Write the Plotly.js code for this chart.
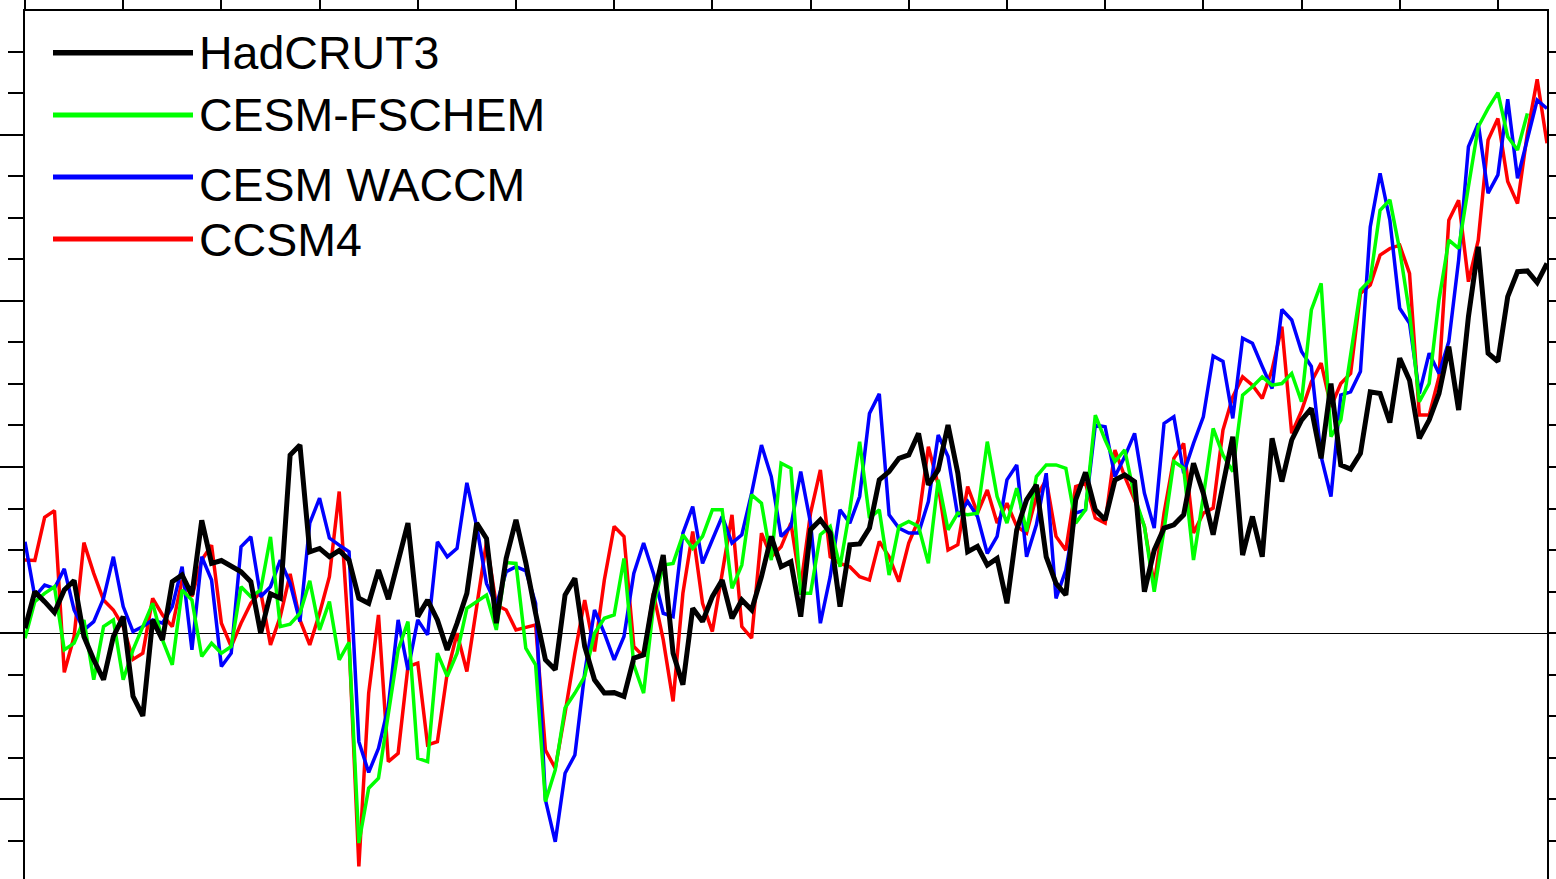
<!DOCTYPE html>
<html>
<head>
<meta charset="utf-8">
<script src="https://cdn.plot.ly/plotly-3.0.1.min.js"></script>
<style>
html,body{margin:0;padding:0;background:#fff;}
#chart{width:1556px;height:879px;}
</style>
</head>
<body>
<div id="chart"></div>
<script>
// ---- data ----
const years = [1850,1851,1852,1853,1854,1855,1856,1857,1858,1859,
1860,1861,1862,1863,1864,1865,1866,1867,1868,1869,
1870,1871,1872,1873,1874,1875,1876,1877,1878,1879,
1880,1881,1882,1883,1884,1885,1886,1887,1888,1889,
1890,1891,1892,1893,1894,1895,1896,1897,1898,1899,
1900,1901,1902,1903,1904,1905,1906,1907,1908,1909,
1910,1911,1912,1913,1914,1915,1916,1917,1918,1919,
1920,1921,1922,1923,1924,1925,1926,1927,1928,1929,
1930,1931,1932,1933,1934,1935,1936,1937,1938,1939,
1940,1941,1942,1943,1944,1945,1946,1947,1948,1949,
1950,1951,1952,1953,1954,1955,1956,1957,1958,1959,
1960,1961,1962,1963,1964,1965,1966,1967,1968,1969,
1970,1971,1972,1973,1974,1975,1976,1977,1978,1979,
1980,1981,1982,1983,1984,1985,1986,1987,1988,1989,
1990,1991,1992,1993,1994,1995,1996,1997,1998,1999,
2000,2001,2002,2003,2004,2005];

const hadcrut3 = [0.012,0.1,0.076,0.05,0.104,0.127,-0.008,-0.064,-0.112,-0.008,
0.04,-0.152,-0.199,0.032,-0.016,0.124,0.14,0.092,0.272,0.168,
0.175,0.16,0.148,0.124,0,0.095,0.084,0.429,0.453,0.196,
0.204,0.184,0.199,0.176,0.084,0.072,0.152,0.082,0.168,0.265,
0.04,0.08,0.032,-0.04,0.024,0.096,0.265,0.228,0.024,0.18,
0.273,0.17,0.048,-0.064,-0.088,0.092,0.132,-0.032,-0.112,-0.144,
-0.143,-0.152,-0.06,-0.052,0.088,0.188,-0.048,-0.124,0.06,0.028,
0.088,0.128,0.036,0.08,0.056,0.136,0.233,0.16,0.172,0.04,
0.249,0.273,0.241,0.064,0.213,0.215,0.253,0.369,0.389,0.421,
0.429,0.481,0.357,0.393,0.501,0.385,0.196,0.209,0.164,0.18,
0.072,0.249,0.321,0.357,0.184,0.12,0.092,0.321,0.387,0.297,
0.273,0.369,0.381,0.365,0.1,0.2,0.253,0.261,0.285,0.409,
0.337,0.237,0.357,0.473,0.188,0.281,0.184,0.469,0.365,0.465,
0.513,0.541,0.421,0.601,0.405,0.395,0.433,0.581,0.577,0.507,
0.662,0.609,0.469,0.513,0.577,0.69,0.537,0.762,0.93,0.674,
0.654,0.81,0.87,0.872,0.844,0.89];

const cesmFschem = [-0.012,0.076,0.096,0.112,-0.04,-0.024,0.032,-0.112,0.016,0.032,
-0.112,-0.04,0.016,0.072,-0.016,-0.076,0.104,0.08,-0.056,-0.024,
-0.048,-0.032,0.112,0.088,0.104,0.232,0.016,0.022,0.048,0.126,
0.008,0.076,-0.064,-0.022,-0.505,-0.373,-0.349,-0.192,-0.04,0.028,
-0.301,-0.309,-0.048,-0.104,-0.048,0.06,0.076,0.092,0.008,0.17,
0.168,-0.036,-0.076,-0.405,-0.329,-0.18,-0.144,-0.104,0,0.036,
0.044,0.18,-0.076,-0.144,0.064,0.164,0.168,0.237,0.204,0.233,
0.297,0.297,0.108,0.164,0.333,0.313,0.176,0.409,0.397,0.096,
0.096,0.237,0.257,0.16,0.297,0.461,0.277,0.297,0.14,0.257,
0.269,0.257,0.168,0.369,0.249,0.289,0.285,0.289,0.461,0.329,
0.265,0.349,0.245,0.377,0.405,0.405,0.397,0.265,0.297,0.525,
0.465,0.413,0.441,0.329,0.257,0.1,0.249,0.413,0.397,0.176,
0.329,0.493,0.429,0.389,0.573,0.593,0.617,0.597,0.601,0.625,
0.557,0.778,0.842,0.473,0.513,0.674,0.826,0.85,1.018,1.043,
0.922,0.77,0.557,0.601,0.802,0.946,0.926,1.075,1.219,1.263,
1.301,1.195,1.163,1.251];

const cesmWaccm = [0.22,0.088,0.116,0.108,0.155,0.056,0.008,0.028,0.084,0.184,
0.064,0.004,0.016,0.032,0.024,0.064,0.16,-0.04,0.184,0.128,
-0.08,-0.048,0.208,0.232,0.088,0.112,0.176,0.12,0.028,0.265,
0.325,0.229,0.212,0.196,-0.261,-0.335,-0.277,-0.176,0.032,-0.088,
0.032,-0.004,0.22,0.184,0.204,0.362,0.257,0.12,0.068,0.148,
0.16,0.15,0.072,-0.401,-0.502,-0.337,-0.293,-0.096,0.056,0,
-0.064,-0.008,0.144,0.217,0.144,0.048,0.04,0.241,0.305,0.168,
0.225,0.281,0.217,0.237,0.337,0.453,0.377,0.233,0.257,0.389,
0.265,0.024,0.136,0.297,0.265,0.329,0.529,0.576,0.285,0.253,
0.241,0.241,0.317,0.477,0.425,0.281,0.317,0.281,0.192,0.233,
0.369,0.405,0.184,0.261,0.385,0.084,0.152,0.289,0.297,0.501,
0.497,0.377,0.425,0.481,0.337,0.253,0.505,0.521,0.385,0.457,
0.521,0.667,0.654,0.517,0.71,0.698,0.642,0.589,0.779,0.754,
0.678,0.642,0.425,0.329,0.573,0.581,0.63,0.978,1.107,0.994,
0.782,0.746,0.577,0.674,0.625,0.702,0.898,1.171,1.227,1.059,
1.103,1.285,1.095,1.187,1.283,1.263];

const ccsm4 = [0.176,0.175,0.279,0.295,-0.094,-0.008,0.218,0.144,0.08,0.056,
0.016,-0.063,-0.048,0.084,0.044,0.016,0.128,0.088,0.176,0.212,
0.024,-0.032,0.024,0.072,0.1,-0.028,0.04,0.143,0.032,-0.028,
0.048,0.136,0.341,-0.02,-0.561,-0.144,0.044,-0.309,-0.289,-0.08,
-0.072,-0.269,-0.261,-0.096,0,-0.092,0.064,0.22,0.068,0.056,
0.008,0.014,0.02,-0.281,-0.325,-0.192,-0.048,0.08,-0.044,0.128,
0.257,0.233,-0.032,-0.056,0.096,-0.016,-0.164,0.096,0.245,0.072,
0.004,0.144,0.285,0.016,-0.012,0.241,0.184,0.208,0.265,0.112,
0.289,0.393,0.184,0.168,0.16,0.136,0.128,0.221,0.184,0.124,
0.217,0.273,0.449,0.357,0.2,0.213,0.353,0.289,0.345,0.265,
0.313,0.257,0.241,0.329,0.369,0.233,0.2,0.353,0.361,0.277,
0.265,0.441,0.377,0.321,0.257,0.116,0.289,0.421,0.457,0.241,
0.289,0.301,0.489,0.569,0.617,0.597,0.565,0.634,0.738,0.481,
0.535,0.605,0.65,0.545,0.601,0.625,0.818,0.838,0.91,0.926,
0.934,0.866,0.525,0.525,0.617,0.994,1.042,0.846,0.946,1.187,
1.239,1.087,1.034,1.203,1.333,1.179];

const seriesNames = ["HadCRUT3","CESM-FSCHEM","CESM WACCM","CCSM4"];
const seriesColors = ["#000000","#00ff00","#0000ff","#ff0000"];
const seriesWidths = [5,3.5,3.5,3.5];

// ---- layout helpers (pixel -> paper) ----
const W = 1556, H = 879;
const M = {l:25, r:9, t:11, b:0};
const px = v => (v - M.l) / (W - M.l - M.r);
const py = v => (H - M.b - v) / (H - M.t - M.b);

const dataSets = [hadcrut3, cesmFschem, cesmWaccm, ccsm4];
const drawOrder = [3,2,1,0];
const traces = drawOrder.map(k => ({
  type: "scatter", mode: "lines",
  x: years.slice(0, dataSets[k].length), y: dataSets[k],
  name: seriesNames[k],
  line: {color: seriesColors[k], width: seriesWidths[k]},
  hoverinfo: "skip", showlegend: false
}));

const legendY = [52.7, 115, 177, 239];
const legendTextY = [53, 115, 185, 240];
const legendLineW = [5.5, 5, 5, 5];
const shapes = [];
const annotations = [];
for (let k = 0; k < 4; k++) {
  shapes.push({type:"line", xref:"paper", yref:"paper",
    x0: px(53), x1: px(193), y0: py(legendY[k]), y1: py(legendY[k]),
    line:{color: seriesColors[k], width: legendLineW[k]}});
  annotations.push({xref:"paper", yref:"paper", x: px(197), y: py(legendTextY[k]),
    xanchor:"left", yanchor:"middle", showarrow:false, text: seriesNames[k],
    font:{family:"Liberation Sans, Arial, Helvetica, sans-serif", size:46.5, color:"#000"}});
}

const layout = {
  width: W, height: H,
  margin: {l:M.l, r:M.r, t:M.t, b:M.b, pad:0},
  paper_bgcolor: "#fff", plot_bgcolor: "#fff",
  showlegend: false,
  xaxis: {
    range: [1850, 2005], side: "top",
    showline: true, linecolor: "#000", linewidth: 2.5, mirror: false,
    ticks: "outside", ticklen: 12, tickwidth: 2, tickcolor: "#000",
    tick0: 1850, dtick: 10, showticklabels: false,
    showgrid: false, zeroline: false
  },
  yaxis: {
    range: [-0.5915, 1.4975],
    showline: true, linecolor: "#000", linewidth: 2, mirror: "ticks",
    ticks: "outside", ticklen: 25, tickwidth: 2, tickcolor: "#000",
    tick0: 0, dtick: 0.4, showticklabels: false,
    minor: {ticks: "outside", dtick: 0.1, ticklen: 15, tickwidth: 2, tickcolor: "#000", showgrid: false},
    showgrid: false,
    zeroline: true, zerolinecolor: "#000", zerolinewidth: 1.2
  },
  shapes: shapes,
  annotations: annotations
};

Plotly.newPlot("chart", traces, layout, {staticPlot: true, displayModeBar: false});
</script>
</body>
</html>
